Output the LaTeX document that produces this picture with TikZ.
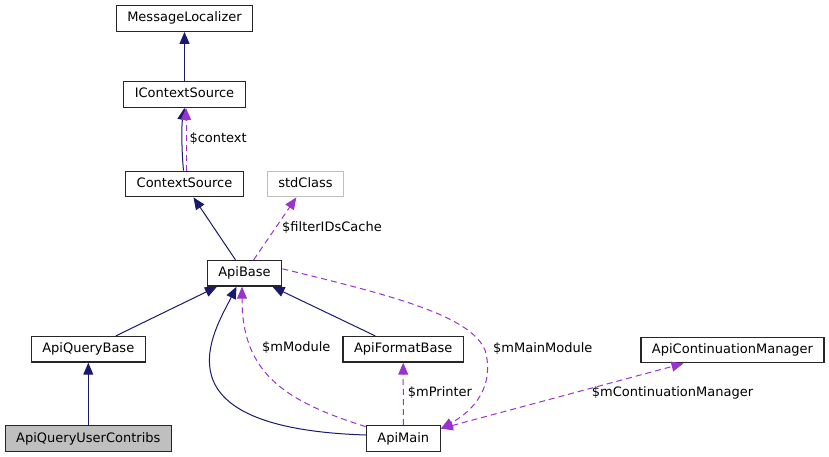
\documentclass[tikz,border=0pt]{standalone}
\usepackage{fontspec}
\setmainfont{DejaVu Sans}
\usepackage{xcolor}
\usepackage{tikz}
\usetikzlibrary{arrows.meta}

\definecolor{inhcol}{HTML}{191970}
\definecolor{usecol}{HTML}{9A32CD}
\definecolor{boxgrey}{HTML}{BFBFBF}

\begin{document}
\begin{tikzpicture}[x=1pt, y=-1pt,
    every node/.style={font=\fontsize{13}{15}\selectfont},
    cls/.style={rectangle, draw=black!85, line width=1.3pt, fill=white, inner xsep=11pt, inner ysep=0pt, minimum height=25.5pt, text height=9.5pt, text depth=2.5pt},
    ext/.style={cls, draw=boxgrey},
    self/.style={cls, fill=boxgrey},
    inherit/.style={draw=inhcol, line width=1pt, -{Triangle[length=12pt, width=10pt]}},
    collab/.style={draw=usecol, line width=1pt, dash pattern=on 6pt off 4pt, -{Triangle[length=12pt, width=10pt]}},
    lbl/.style={anchor=west, inner sep=0pt, text height=9.5pt, text depth=2.5pt}]
    \useasboundingbox (0,0) rectangle (829,457);

    \node[cls] (msgloc) at (184.5,18.5) {MessageLocalizer};
    \node[cls] (icontext) at (184.5,94.5) {IContextSource};
    \node[cls] (ctxsrc) at (184.5,184) {ContextSource};
    \node[ext] (stdcls) at (305.5,184) {stdClass};
    \node[cls] (apibase) at (244.5,273.3) {ApiBase};
    \node[cls] (querybase) at (88.3,349.3) {ApiQueryBase};
    \node[cls] (formatbase) at (403.2,349.3) {ApiFormatBase};
    \node[cls] (contmgr) at (732.5,350) {ApiContinuationManager};
    \node[self] (usercontribs) at (88.3,438.5) {ApiQueryUserContribs};
    \node[cls] (apimain) at (403.3,438.5) {ApiMain};

    \draw[inherit] (icontext) -- (msgloc);
    \draw[inherit] ([xshift=-1pt]ctxsrc.north) .. controls (181.5,150) and (181.5,125) .. (icontext.south);
    \draw[collab] ([xshift=1.5pt]ctxsrc.north) -- ([xshift=1.5pt]icontext.south)
        node[lbl, pos=0.5, xshift=3pt] (ctxlbl) {\$context};
    \draw[inherit] (apibase) -- (ctxsrc);
    \draw[collab] (apibase) -- (stdcls);
    \node[lbl] (filterlbl) at (282,227.7) {\$filterIDsCache};
    \draw[inherit] (querybase) -- (apibase);
    \draw[inherit] (formatbase) -- (apibase);
    \draw[inherit] (usercontribs) -- (querybase);
    \draw[inherit] ([yshift=3.5pt]apimain.west) .. controls (150,428) and (215,330) .. ([xshift=-8pt]apibase.south);
    \draw[collab] ([yshift=-1.5pt]apimain.north west) .. controls (280,400) and (242,370) .. ([xshift=-2.5pt]apibase.south);
    \node[lbl] (modlbl) at (262,348.3) {\$mModule};
    \draw[collab] (apimain) -- (formatbase);
    \node[lbl] (printlbl) at (407.7,392.7) {\$mPrinter};
    \draw[collab] ([yshift=4.5pt]apibase.east) .. controls (390,295) and (470,315) .. (485,350)
        .. controls (495,385) and (475,410) .. ([yshift=-3.5pt]apimain.north east);
    \node[lbl] (mainlbl) at (493,349) {\$mMainModule};
    \draw[collab, {Triangle[length=12pt, width=10pt]}-{Triangle[length=12pt, width=10pt]}] ([yshift=-3.5pt]apimain.north east) -- ([xshift=-49pt]contmgr.south);
    \node[lbl] (contlbl) at (591.7,392.7) {\$mContinuationManager};
\end{tikzpicture}
\end{document}
